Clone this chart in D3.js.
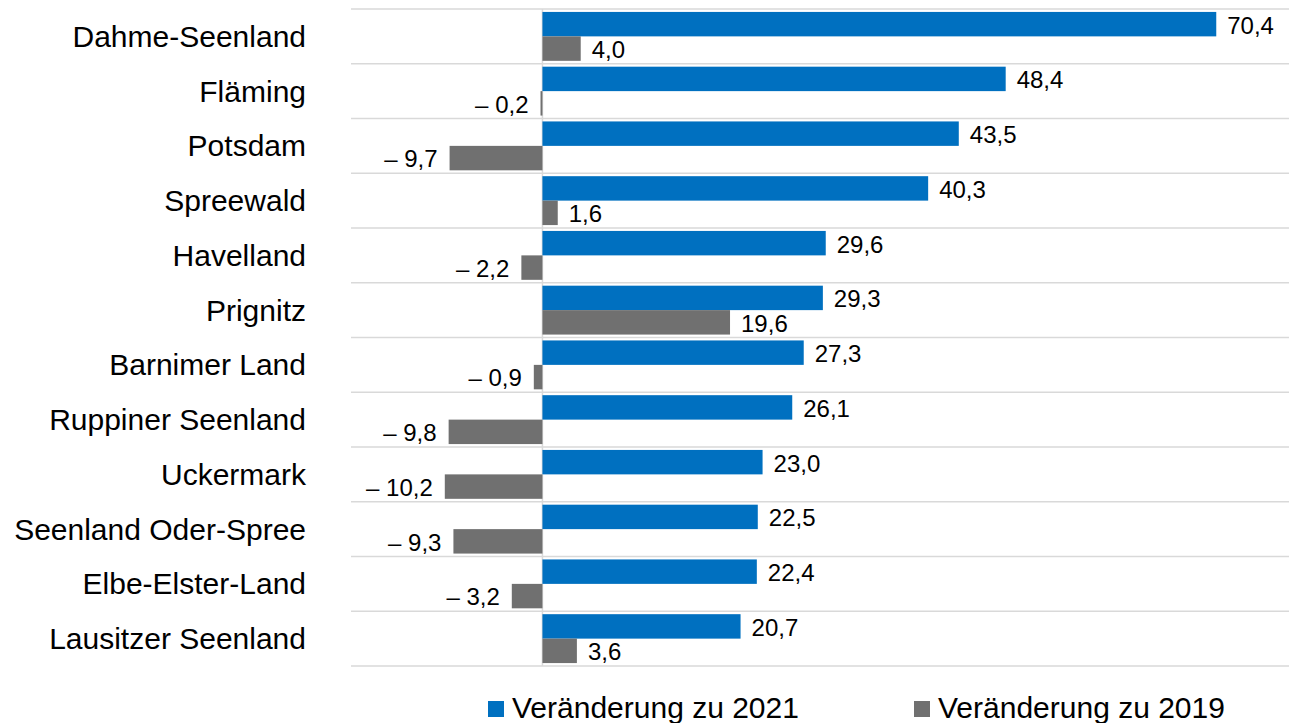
<!DOCTYPE html>
<html>
<head>
<meta charset="utf-8">
<script src="https://cdn.jsdelivr.net/npm/d3@7"></script>
<style>
	body { margin: 0; background: #fff; }
	svg { display: block; font-family: "Liberation Sans", Arial, sans-serif; }
</style>
</head>
<body>
<svg id="chart" width="1289" height="723"></svg>
<script>
"use strict";

var regions = ["Dahme-Seenland","Fläming","Potsdam","Spreewald","Havelland","Prignitz",
	"Barnimer Land","Ruppiner Seenland","Uckermark","Seenland Oder-Spree","Elbe-Elster-Land","Lausitzer Seenland"];
var vs2021 = [70.4, 48.4, 43.5, 40.3, 29.6, 29.3, 27.3, 26.1, 23.0, 22.5, 22.4, 20.7];
var vs2019 = [4.0, -0.2, -9.7, 1.6, -2.2, 19.6, -0.9, -9.8, -10.2, -9.3, -3.2, 3.6];
var seriesNames = ["Veränderung zu 2021", "Veränderung zu 2019"];
var seriesColors = ["#0070c0", "#707070"];

var plotLeft = 351, plotRight = 1289, plotTop = 9, plotBottom = 666;
var svg = d3.select("#chart");

var x = d3.scaleLinear().domain([-20, 78]).range([plotLeft, plotRight]);
var y = d3.scaleBand().domain(regions).range([plotTop, plotBottom]).paddingInner(0).paddingOuter(0);
var inner = d3.scaleBand().domain([0, 1]).range([0, y.bandwidth()]).paddingOuter(0.12).paddingInner(0);

// gridlines at band edges
var edges = regions.map(function(r){ return y(r); }).concat([plotBottom]);
svg.append("g").selectAll("line").data(edges).join("line")
	.attr("x1", plotLeft).attr("x2", plotRight)
	.attr("y1", function(d){ return d; }).attr("y2", function(d){ return d; })
	.attr("stroke", "#d9d9d9").attr("stroke-width", 1.5);

// zero line
svg.append("line")
	.attr("x1", x(0)).attr("x2", x(0)).attr("y1", plotTop).attr("y2", plotBottom)
	.attr("stroke", "#d9d9d9").attr("stroke-width", 1.5);

function fmt(v) {
	var s = Math.abs(v).toFixed(1).replace(".", ",");
	return v < 0 ? "\u2013 " + s : s;
}

var rows = regions.map(function(r, i){ return {region: r, vals: [vs2021[i], vs2019[i]]}; });

var groups = svg.append("g").selectAll("g").data(rows).join("g")
	.attr("transform", function(d){ return "translate(0," + y(d.region) + ")"; });

groups.selectAll("rect").data(function(d){ return d.vals; }).join("rect")
	.attr("x", function(v){ return x(Math.min(0, v)); })
	.attr("width", function(v){ return Math.abs(x(v) - x(0)); })
	.attr("y", function(v, j){ return inner(j); })
	.attr("height", inner.bandwidth())
	.attr("fill", function(v, j){ return seriesColors[j]; });

groups.selectAll("text.val").data(function(d){ return d.vals; }).join("text")
	.attr("class", "val")
	.attr("x", function(v){ return v < 0 ? x(v) - 12 : x(v) + 11; })
	.attr("y", function(v, j){ return inner(j) + inner.bandwidth() / 2 + 1; })
	.attr("dy", "0.35em")
	.attr("text-anchor", function(v){ return v < 0 ? "end" : "start"; })
	.attr("font-size", "24px")
	.attr("fill", "#000")
	.text(fmt);

// category labels
svg.append("g").selectAll("text").data(regions).join("text")
	.attr("x", 306)
	.attr("y", function(d){ return y(d) + y.bandwidth() / 2; })
	.attr("dy", "0.35em")
	.attr("text-anchor", "end")
	.attr("font-size", "30px")
	.attr("fill", "#000")
	.text(function(d){ return d; });

// legend
var legendX = [488, 914];
var legend = svg.append("g").selectAll("g").data(seriesNames).join("g")
	.attr("transform", function(d, i){ return "translate(" + legendX[i] + ",701)"; });
legend.append("rect")
	.attr("width", 16).attr("height", 16)
	.attr("fill", function(d, i){ return seriesColors[i]; });
legend.append("text")
	.attr("x", 24).attr("y", 17)
	.attr("font-size", "30px")
	.attr("fill", "#000")
	.text(function(d){ return d; });
</script>
</body>
</html>
